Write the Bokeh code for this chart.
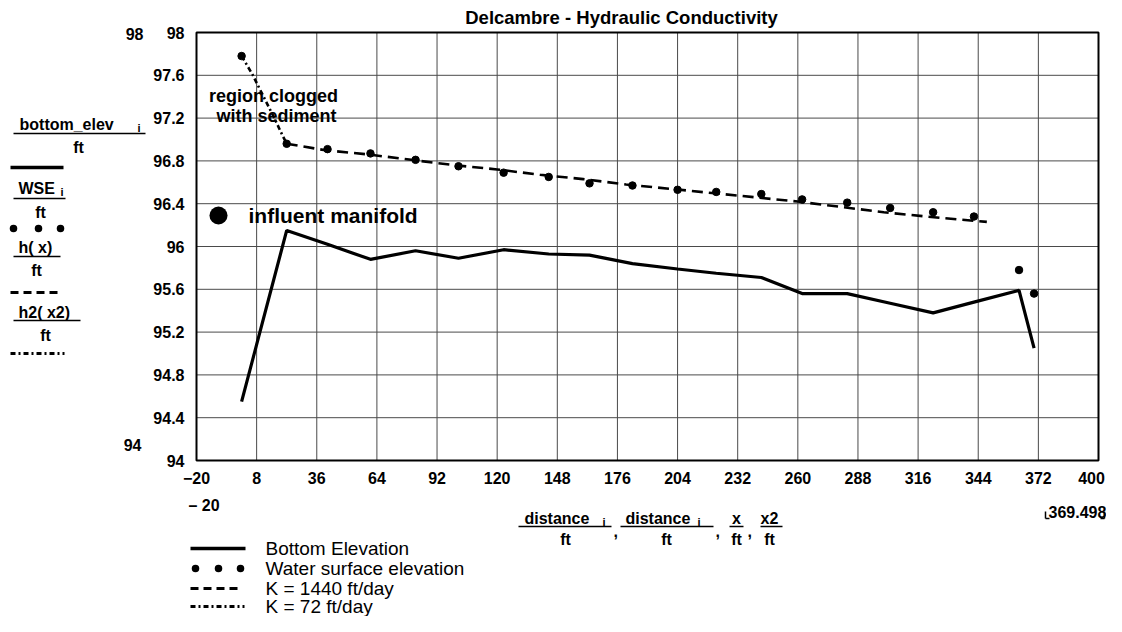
from bokeh.plotting import figure
from bokeh.models import Label, Arrow, Range1d
from bokeh.core.properties import value
from bokeh.embed import file_html
from bokeh.resources import INLINE

# ---------------- data ----------------
distance = [1, 22, 41, 61, 82, 102, 123, 144, 163, 183, 204, 222, 243, 262, 283, 303, 323, 342, 363, 370]
bottom_elev = [94.55, 96.15, 96.02, 95.88, 95.96, 95.89, 95.97, 95.93, 95.92, 95.84,
               95.79, 95.75, 95.71, 95.56, 95.56, 95.47, 95.38, 95.48, 95.59, 95.05]
wse = [97.78, 96.96, 96.91, 96.87, 96.81, 96.75, 96.69, 96.65, 96.59, 96.57,
       96.53, 96.51, 96.49, 96.44, 96.41, 96.36, 96.32, 96.28, 95.78, 95.56]
x_k1440 = [22, 40, 60, 80, 100, 120, 140, 160, 180, 200, 220, 240, 260, 280, 300, 320, 348]
h_k1440 = [96.96, 96.90, 96.86, 96.81, 96.76, 96.72, 96.67, 96.63, 96.58, 96.54,
           96.50, 96.46, 96.42, 96.37, 96.32, 96.28, 96.23]
x_k72 = [1, 6, 11, 16, 20, 22]
h_k72 = [97.78, 97.61, 97.41, 97.21, 97.04, 96.96]

x_ticks = [-20, 8, 36, 64, 92, 120, 148, 176, 204, 232, 260, 288, 316, 344, 372, 400]
x_tick_labels = ["\u221220", "8", "36", "64", "92", "120", "148", "176", "204", "232",
                 "260", "288", "316", "344", "372", "400"]
y_ticks = [94, 94.4, 94.8, 95.2, 95.6, 96, 96.4, 96.8, 97.2, 97.6, 98]
y_tick_labels = ["94", "94.4", "94.8", "95.2", "95.6", "96", "96.4", "96.8", "97.2", "97.6", "98"]
XMIN, XMAX = -20, 400
YMIN, YMAX = 94, 98

title_text = "Delcambre - Hydraulic Conductivity"
legend_names = ["Bottom Elevation", "Water surface elevation", "K = 1440 ft/day", "K = 72 ft/day"]

# ---------------- layout (canvas pixel geometry) ----------------
W, H = 1106, 616
FL, FR, FT, FB = 196, 1098, 32, 460   # plot box edges in canvas pixels


def X(px):
    return XMIN + (px - FL) * (XMAX - XMIN) / (FR - FL)


def Y(py):
    return YMAX - (py - FT) * (YMAX - YMIN) / (FB - FT)


FONT = "Liberation Sans"

p = figure(width=W, height=H, output_backend="svg", toolbar_location=None, title=None,
           x_range=Range1d(X(0), X(W)), y_range=Range1d(Y(H), Y(0)),
           x_axis_type=None, y_axis_type=None,
           min_border_left=0, min_border_right=0, min_border_top=0, min_border_bottom=0)
p.background_fill_color = "white"
p.border_fill_color = "white"
p.outline_line_color = None

# grid lines at the tick values
p.segment(x0=x_ticks, y0=[YMIN] * len(x_ticks), x1=x_ticks, y1=[YMAX] * len(x_ticks),
          line_color="#4a4a4a", line_width=1)
p.segment(x0=[XMIN] * len(y_ticks), y0=y_ticks, x1=[XMAX] * len(y_ticks), y1=y_ticks,
          line_color="#4a4a4a", line_width=1)
# plot box
p.quad(left=[XMIN], right=[XMAX], bottom=[YMIN], top=[YMAX], fill_color=None,
       line_color="black", line_width=2)

# tick labels (last x label nudged left so it stays on the canvas)
x_label_shift = [0] * (len(x_ticks) - 1) + [-7]
p.text(x=x_ticks, y=[Y(477)] * len(x_ticks), text=x_tick_labels, x_offset=x_label_shift,
       text_font=value(FONT), text_font_style="bold", text_font_size="16px",
       text_align="center", text_baseline="middle", text_color="black")
p.text(x=[X(184)] * len(y_ticks), y=y_ticks, text=y_tick_labels, text_font=value(FONT),
       text_font_style="bold", text_font_size="16px", text_align="right",
       text_baseline="middle", text_color="black")

# ---------------- series ----------------
p.line(distance, bottom_elev, line_color="black", line_width=3.2)
p.scatter(distance, wse, size=7.5, marker="circle", fill_color="black", line_color="black")
p.line(x_k1440, h_k1440, line_color="black", line_width=2.6, line_dash="11 6")
p.line(x_k72, h_k72, line_color="black", line_width=2.6, line_dash="5 3 2 3")


# ---------------- helpers for annotations ----------------
def text(px, py, s, size=16, bold=True, align="left", baseline="middle"):
    p.add_layout(Label(x=X(px), y=Y(py), text=s, text_font=FONT,
                       text_font_size=f"{size}px",
                       text_font_style="bold" if bold else "normal",
                       text_align=align, text_baseline=baseline, text_color="black"))


def seg(x0, y0, x1, y1, width=1.5, dash="solid", cap="butt"):
    p.add_layout(Arrow(x_start=X(x0), y_start=Y(y0), x_end=X(x1), y_end=Y(y1),
                       start=None, end=None, line_color="black", line_width=width,
                       line_dash=dash, line_cap=cap))


def dot(px, py, d):
    seg(px - 0.02, py, px + 0.02, py, width=d, cap="round")


# title
text(621, 17, title_text, size=18.5, bold=True, align="center")

# annotations inside the plot
text(273, 95, "region clogged", size=18, align="center")
text(276, 115, "with sediment", size=18, align="center")
dot(218, 215, 18)
text(248, 215, "influent manifold", size=21)

# extra Mathcad axis limits
text(143, 33, "98", size=16, align="right")
text(141, 444, "94", size=16, align="right")
text(188, 505, "\u2013 20", size=16)
text(1048, 511, "369.498", size=16)
seg(1045, 511, 1045, 518, width=1.5)
seg(1045, 518, 1049, 518, width=1.5)
seg(1104, 511, 1104, 518, width=1.5)
seg(1100, 518, 1104, 518, width=1.5)

# left (y-axis) Mathcad label stack
text(19, 124, "bottom_elev", size=16)
text(137, 127, "i", size=11)
seg(13, 133, 145, 133)
text(78, 147, "ft", size=16, align="center")
seg(10, 167, 63, 167, width=3.5)

text(18, 188, "WSE", size=16)
text(60, 191, "i", size=11)
seg(13, 198, 65, 198)
text(40, 212, "ft", size=16, align="center")
for xx in (13, 38, 60):
    dot(xx, 228, 7.5)

text(18, 247, "h( x)", size=16)
seg(13, 256, 60, 256)
text(36, 270, "ft", size=16, align="center")
seg(10, 292, 62, 292, width=3, dash="8 5")

text(18, 312, "h2( x2)", size=16)
seg(13, 320, 80, 320)
text(45, 335, "ft", size=16, align="center")
seg(10, 353, 64, 353, width=3, dash="5 3 2 3")

# x-axis Mathcad label
text(524, 518, "distance", size=16)
text(602, 521, "i", size=11)
seg(518, 526, 611, 526)
text(565, 539, "ft", size=16, align="center")
text(613, 530, ",", size=16)
text(625, 518, "distance", size=16)
text(697, 521, "i", size=11)
seg(620, 526, 713, 526)
text(666, 539, "ft", size=16, align="center")
text(715, 530, ",", size=16)
text(736, 518, "x", size=16, align="center")
seg(729, 526, 743, 526)
text(736, 539, "ft", size=16, align="center")
text(747, 530, ",", size=16)
text(769, 518, "x2", size=16, align="center")
seg(760, 526, 782, 526)
text(769, 539, "ft", size=16, align="center")

# bottom legend
leg_y = [548, 568, 588, 606]
seg(190, leg_y[0], 245, leg_y[0], width=3.5)
for xx in (195, 218, 240):
    dot(xx, leg_y[1], 7.5)
seg(190, leg_y[2], 242, leg_y[2], width=3, dash="8 5")
seg(190, leg_y[3], 244, leg_y[3], width=3, dash="5 3 2 3")
for yy, name in zip(leg_y, legend_names):
    text(265, yy, name, size=19, bold=False)

open("out.html", "w").write(file_html(p, INLINE))
